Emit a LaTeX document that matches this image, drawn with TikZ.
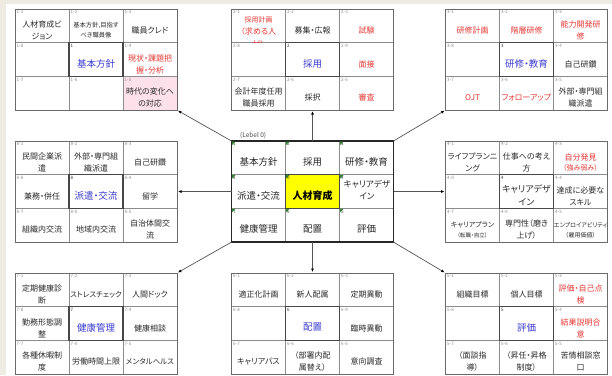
\documentclass[tikz,border=0pt]{standalone}
\usepackage{fontspec}
\setmainfont{Noto Sans CJK JP}[RawFeature=+palt]
\usetikzlibrary{arrows.meta}
\definecolor{txtc}{HTML}{2A2A2A}
\definecolor{rtxt}{HTML}{E53935}
\definecolor{btxt}{HTML}{3C3CD0}
\definecolor{gridc}{HTML}{8C8C8C}
\definecolor{borderc}{HTML}{6A6A6A}
\definecolor{midc}{HTML}{474747}
\definecolor{pinkfill}{HTML}{FCE1EA}
\definecolor{beige}{HTML}{EEEBE3}
\definecolor{lblc}{HTML}{8A8A8A}
\definecolor{xgreen}{HTML}{2E8B2E}
\definecolor{arrc}{HTML}{555555}
\definecolor{yel}{HTML}{FFFF00}
\newcommand\mcell[5]{%
  \node[lbl] (n\bp#3) at ({\bx+#1*54+1.5},{\by+#2*33.7+1.2}) {#3};
  \node[ct,#4] (t\bp#3) at ({\bx+#1*54+27},{\by+#2*33.7+21.35}) {#5};}
\newcommand\mlabel[3]{%
  \node[lbl] (n\bp#3) at ({\bx+#1*54+1.5},{\by+#2*33.7+1.2}) {#3};}
\newcommand\mctr[3]{%
  \node[lbl,text=black!80] (n\bp#1) at ({\bx+54+1.5},{\by+33.7+1.2}) {#1};
  \node[ct,#2] (t\bp#1) at ({\bx+81},{\by+33.7+20.85}) {#3};}
\newcommand\mtwo[7]{%
  \node[lbl] (n\bp#3) at ({\bx+#1*54+1.5},{\by+#2*33.7+1.2}) {#3};
  \node[ct,#4] (t\bp#3a) at ({\bx+#1*54+27},{\by+#2*33.7+16.85}) {#5};
  \node[ct,#6] (t\bp#3b) at ({\bx+#1*54+27},{\by+#2*33.7+26.85}) {#7};}
\newcommand\zcell[5]{%
  \fill[xgreen] ({\bx+#1*54+0.5},{\by+#2*33.7+0.5}) -- ++(3.5,0) -- ++(-3.5,3.5) -- cycle;
  \node[lbl,text=black!75] (n\bp#3) at ({\bx+#1*54+1.5},{\by+#2*33.7+1.2}) {#3};
  \node[ct,c9,#4] (t\bp#3) at ({\bx+#1*54+27},{\by+#2*33.7+20.85}) {#5};}
\newcommand\mgrid{%
  \foreach \i in {1,2} {%
    \draw[gridl] ({\bx+\i*54},\by) -- ({\bx+\i*54},{\by+101.1});
    \draw[gridl] (\bx,{\by+\i*33.7}) -- ({\bx+162},{\by+\i*33.7});}
  \draw[outerl] (\bx,\by) rectangle ({\bx+162},{\by+101.1});}
\begin{document}
\begin{tikzpicture}[x=1pt,y=-1pt,
  lbl/.style={anchor=north west,inner sep=0pt,font=\fontsize{4.5}{5}\selectfont,text=lblc},
  ct/.style={align=center,inner sep=0pt,font=\fontsize{8}{12}\selectfont,text=txtc},
  rd/.style={text=rtxt},
  bl/.style={text=btxt,font=\fontsize{9.5}{12}\selectfont},
  sm/.style={font=\fontsize{6.3}{9.5}\selectfont},
  s75/.style={font=\fontsize{7.5}{11}\selectfont},
  s7/.style={font=\fontsize{7}{9}\selectfont},
  s6/.style={font=\fontsize{6}{8}\selectfont},
  s55/.style={font=\fontsize{5.5}{7}\selectfont},
  c9/.style={font=\fontsize{9.5}{13}\selectfont},
  gridl/.style={draw=gridc,line width=0.7pt},
  outerl/.style={draw=borderc,line width=0.9pt},
  midl/.style={draw=midc,line width=1.3pt},
  blk/.style={minimum width=162pt,minimum height=101.1pt,inner sep=0pt,outer sep=0pt,draw=none},
  arr/.style={draw=arrc,line width=0.7pt,-{Latex[length=3.5pt,width=3pt,color=black]},shorten >=1pt}]
\useasboundingbox (0,0) rectangle (612,375);
\fill[white] (0,0) rectangle (612,375);
\fill[beige] (0,0) rectangle (6,375);
\fill[beige] (0,0) rectangle (612,4);
% ---------- block 1 (top-left)
\def\bx{15}\def\by{9}\def\bp{A}
\node[blk] (B1) at ({\bx+81},{\by+50.55}) {};
\fill[pinkfill] ({\bx+108},{\by+67.4}) rectangle ({\bx+162},{\by+101.1});
\mgrid
\draw[midl] ({\bx+54},{\by+33.7}) rectangle ({\bx+108},{\by+67.4});
\mcell{0}{0}{1-1}{}{人材育成ビ\\ジョン}
\mcell{1}{0}{1-2}{sm}{基本方針,目指す\\べき職員像}
\mcell{2}{0}{1-3}{}{職員クレド}
\mcell{2}{1}{1-4}{rd}{現状・課題把\\握・分析}
\mcell{2}{2}{1-5}{}{時代の変化へ\\の対応}
\mlabel{1}{2}{1-6}
\mlabel{0}{2}{1-7}
\mlabel{0}{1}{1-8}
\mctr{1}{bl}{基本方針}
% ---------- block 2 (top-middle)
\def\bx{231.5}\def\by{9}\def\bp{B}
\node[blk] (B2) at ({\bx+81},{\by+50.55}) {};
\mgrid
\draw[midl] ({\bx+54},{\by+33.7}) rectangle ({\bx+108},{\by+67.4});
\mlabel{0}{0}{2-1}
\begin{scope}
\clip (\bx,\by) rectangle ({\bx+54},{\by+33.7});
\node[ct,rd,font=\fontsize{7}{8}\selectfont] (tB2-1a) at ({\bx+27},{\by+10.5}) {採用計画};
\node[ct,rd] (tB2-1b) at ({\bx+27},{\by+22.5}) {（求める人};
\node[ct,rd] (tB2-1c) at ({\bx+27},{\by+35}) {材）};
\end{scope}
\mcell{1}{0}{2-2}{}{募集・広報}
\mcell{2}{0}{2-3}{rd}{試験}
\mcell{2}{1}{2-4}{rd}{面接}
\mcell{2}{2}{2-5}{rd}{審査}
\mcell{1}{2}{2-6}{}{採択}
\mcell{0}{2}{2-7}{}{会計年度任用\\職員採用}
\mlabel{0}{1}{2-8}
\mctr{2}{bl}{採用}
% ---------- block 3 (top-right)
\def\bx{445.5}\def\by{9}\def\bp{C}
\node[blk] (B3) at ({\bx+81},{\by+50.55}) {};
\mgrid
\draw[midl] ({\bx+54},{\by+33.7}) rectangle ({\bx+108},{\by+67.4});
\mcell{0}{0}{3-1}{rd}{研修計画}
\mcell{1}{0}{3-2}{rd}{階層研修}
\mcell{2}{0}{3-3}{rd}{能力開発研\\修}
\mcell{2}{1}{3-4}{}{自己研鑽}
\mcell{2}{2}{3-5}{}{外部・専門組\\織派遣}
\mcell{1}{2}{3-6}{rd}{フォローアップ}
\mcell{0}{2}{3-7}{rd}{OJT}
\mlabel{0}{1}{3-8}
\mctr{3}{bl}{研修・教育}
% ---------- block 8 (middle-left)
\def\bx{15}\def\by{141}\def\bp{H}
\node[blk] (B8) at ({\bx+81},{\by+50.55}) {};
\mgrid
\draw[midl] ({\bx+54},{\by+33.7}) rectangle ({\bx+108},{\by+67.4});
\mcell{0}{0}{8-1}{}{民間企業派\\遣}
\mcell{1}{0}{8-2}{}{外部・専門組\\織派遣}
\mcell{2}{0}{8-3}{}{自己研鑽}
\mcell{2}{1}{8-4}{}{留学}
\mcell{2}{2}{8-5}{}{自治体間交\\流}
\mcell{1}{2}{8-6}{}{地域内交流}
\mcell{0}{2}{8-7}{}{組織内交流}
\mcell{0}{1}{8-8}{}{兼務・併任}
\mctr{8}{bl}{派遣・交流}
% ---------- block 4 (middle-right)
\def\bx{445.5}\def\by{141}\def\bp{D}
\node[blk] (B4) at ({\bx+81},{\by+50.55}) {};
\mgrid
\draw[midl] ({\bx+54},{\by+33.7}) rectangle ({\bx+108},{\by+67.4});
\mcell{0}{0}{4-1}{}{ライフプランニ\\ング}
\mcell{1}{0}{4-2}{}{仕事への考え\\方}
\mtwo{2}{0}{4-3}{rd}{自分発見}{rd,s7}{（強み弱み）}
\mcell{2}{1}{4-4}{}{達成に必要な\\スキル}
\mtwo{2}{2}{4-5}{s6}{エンプロイアビリティ}{s6}{（雇用価値）}
\mcell{1}{2}{4-6}{}{専門性（磨き\\上げ）}
\mtwo{0}{2}{4-7}{s7}{キャリアプラン}{s55}{（転職・自立）}
\mlabel{0}{1}{4-8}
\mctr{4}{font=\fontsize{9}{13}\selectfont}{キャリアデザ\\イン}
% ---------- block 7 (bottom-left)
\def\bx{15}\def\by{273}\def\bp{G}
\node[blk] (B7) at ({\bx+81},{\by+50.55}) {};
\mgrid
\draw[midl] ({\bx+54},{\by+33.7}) rectangle ({\bx+108},{\by+67.4});
\mcell{0}{0}{7-1}{}{定期健康診\\断}
\mcell{1}{0}{7-2}{s75}{ストレスチェック}
\mcell{2}{0}{7-3}{}{人間ドック}
\mcell{2}{1}{7-4}{}{健康相談}
\mcell{2}{2}{7-5}{s75}{メンタルヘルス}
\mcell{1}{2}{7-6}{}{労働時間上限}
\mcell{0}{2}{7-7}{}{各種休暇制\\度}
\mcell{0}{1}{7-8}{}{勤務形態調\\整}
\mctr{7}{bl}{健康管理}
% ---------- block 6 (bottom-middle)
\def\bx{231.5}\def\by{273}\def\bp{F}
\node[blk] (B6) at ({\bx+81},{\by+50.55}) {};
\mgrid
\draw[midl] ({\bx+54},{\by+33.7}) rectangle ({\bx+108},{\by+67.4});
\mcell{0}{0}{6-1}{}{適正化計画}
\mcell{1}{0}{6-2}{}{新人配属}
\mcell{2}{0}{6-3}{}{定期異動}
\mcell{2}{1}{6-4}{}{臨時異動}
\mcell{2}{2}{6-5}{}{意向調査}
\mcell{1}{2}{6-6}{}{（部署内配\\属替え）}
\mcell{0}{2}{6-7}{}{キャリアパス}
\mlabel{0}{1}{6-8}
\mctr{6}{bl}{配置}
% ---------- block 5 (bottom-right)
\def\bx{445.5}\def\by{273}\def\bp{E}
\node[blk] (B5) at ({\bx+81},{\by+50.55}) {};
\mgrid
\draw[midl] ({\bx+54},{\by+33.7}) rectangle ({\bx+108},{\by+67.4});
\mcell{0}{0}{5-1}{}{組織目標}
\mcell{1}{0}{5-2}{}{個人目標}
\mcell{2}{0}{5-3}{rd}{評価・自己点\\検}
\mcell{2}{1}{5-4}{rd}{結果説明合\\意}
\mcell{2}{2}{5-5}{}{苦情相談窓\\口}
\mcell{1}{2}{5-6}{}{（昇任・昇格\\制度）}
\mcell{0}{2}{5-7}{}{（面談指\\導）}
\mlabel{0}{1}{5-8}
\mctr{5}{bl}{評価}
% ---------- center block
\def\bx{231.5}\def\by{141}\def\bp{Z}
\node[blk] (B0) at ({\bx+81},{\by+50.55}) {};
\fill[yel] ({\bx+54},{\by+33.7}) rectangle ({\bx+108},{\by+67.4});
\foreach \i in {1,2} {%
  \draw[gridl] ({\bx+\i*54},\by) -- ({\bx+\i*54},{\by+101.1});
  \draw[gridl] (\bx,{\by+\i*33.7}) -- ({\bx+162},{\by+\i*33.7});}
\draw[draw=black!85,line width=1.6pt] (\bx,\by) rectangle ({\bx+162},{\by+101.1});
\draw[midl] ({\bx+54},{\by+33.7}) rectangle ({\bx+108},{\by+67.4});
\zcell{0}{0}{1}{}{基本方針}
\zcell{1}{0}{2}{}{採用}
\zcell{2}{0}{3}{}{研修・教育}
\zcell{0}{1}{8}{}{派遣・交流}
\zcell{1}{1}{0}{font=\fontsize{10}{13}\bfseries,text=black}{人材育成}
\fill[xgreen] ({\bx+108+0.5},{\by+33.7+0.5}) -- ++(3.5,0) -- ++(-3.5,3.5) -- cycle;
\node[lbl,text=black!75] (nZ4) at ({\bx+108+1.5},{\by+33.7+1.2}) {4};
\node[ct,font=\fontsize{8.6}{12.5}\selectfont] (tZ4) at ({\bx+135.5},{\by+33.7+15.3}) {キャリアデザ\\イン};
\zcell{0}{2}{7}{}{健康管理}
\zcell{1}{2}{6}{}{配置}
\zcell{2}{2}{5}{}{評価}
\node[anchor=west,inner sep=0pt,font=\fontsize{6.5}{7}\selectfont,text=black!70] (lev) at (240,135) {(Lebel 0)};
% ---------- arrows
\draw[arr] (B0.north west) -- (B1.south east);
\draw[arr] (B0.north) -- (B2.south);
\draw[arr] (B0.north east) -- (B3.south west);
\draw[arr] (B0.east) -- (B4.west);
\draw[arr] (B0.south east) -- (B5.north west);
\draw[arr] (B0.south) -- (B6.north);
\draw[arr] (B0.south west) -- (B7.north east);
\draw[arr] (B0.west) -- (B8.east);
\end{tikzpicture}
\end{document}
